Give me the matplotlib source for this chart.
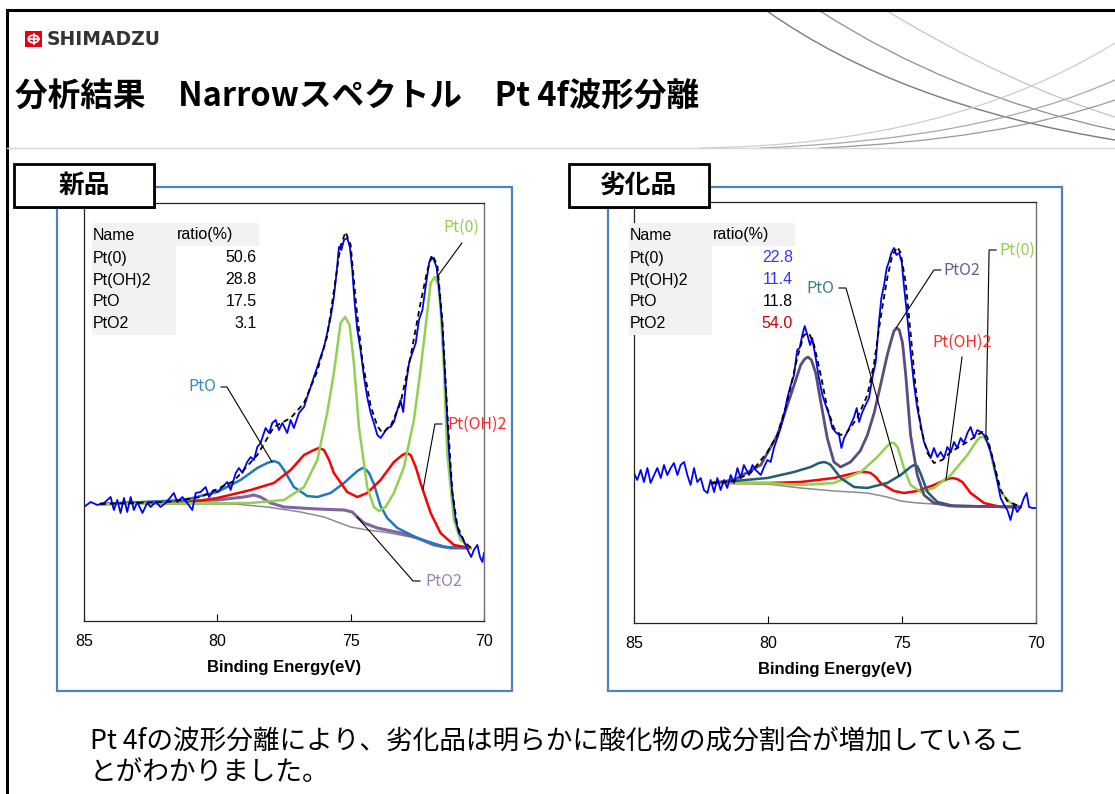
import matplotlib
matplotlib.use('Agg')
import matplotlib.pyplot as plt
from matplotlib.patches import Rectangle, Circle, PathPatch
from matplotlib.path import Path
from matplotlib.lines import Line2D

plt.rcParams['font.family'] = ['Liberation Sans', 'Noto Sans CJK JP', 'DejaVu Sans']

# ---------------------------------------------------------------- data
TITLE = "分析結果　Narrowスペクトル　Pt 4f波形分離"
PANEL_LABELS = ["新品", "劣化品"]
XTICKS = [85, 80, 75, 70]
XLABEL = "Binding Energy(eV)"
SUMMARY = ["Pt 4fの波形分離により、劣化品は明らかに酸化物の成分割合が増加しているこ",
           "とがわかりました。"]

TABLE_NAMES = ["Pt(0)", "Pt(OH)2", "PtO", "PtO2"]
new_ratio = ["50.6", "28.8", "17.5", "3.1"]
old_ratio = ["22.8", "11.4", "11.8", "54.0"]

# ---- 新品 (new) ----
new_raw_x = [85.00, 84.75, 84.50, 84.25, 84.00, 83.88, 83.75, 83.63, 83.50, 83.38, 83.25, 83.13,
             83.00, 82.81, 82.63, 82.50, 82.31, 82.13, 81.94, 81.75, 81.63, 81.50, 81.31, 81.13,
             80.94, 80.81, 80.63, 80.44, 80.31, 80.13, 80.00, 79.81, 79.63, 79.50, 79.31, 79.19,
             79.06, 78.88, 78.75, 78.63, 78.50, 78.38, 78.19, 78.06, 77.94, 77.81, 77.69, 77.56,
             77.38, 77.25, 77.13, 76.94, 76.75, 76.63, 76.50, 76.38, 76.25, 76.13, 76.00, 75.88,
             75.75, 75.63, 75.53, 75.44, 75.35, 75.25, 75.13, 75.03, 74.94, 74.85, 74.75, 74.63,
             74.50, 74.38, 74.25, 74.13, 74.00, 73.88, 73.75, 73.63, 73.50, 73.38, 73.25, 73.13,
             73.03, 72.94, 72.81, 72.69, 72.56, 72.44, 72.31, 72.19, 72.06, 71.98, 71.88, 71.78,
             71.69, 71.56, 71.44, 71.31, 71.19, 71.06, 70.94, 70.81, 70.69, 70.56, 70.48, 70.38,
             70.25, 70.15, 70.06, 70.00]
new_raw_y = [114, 119, 116, 118, 124, 111, 121, 108, 123, 109, 124, 111,
             119, 108, 118, 114, 119, 114, 118, 124, 128, 119, 124, 118,
             111, 128, 129, 134, 124, 131, 129, 134, 139, 131, 148, 153,
             148, 159, 164, 161, 174, 178, 193, 188, 198, 201, 191, 198,
             188, 201, 193, 208, 214, 224, 234, 244, 254, 264, 274, 288,
             304, 324, 348, 374, 371, 381, 383, 374, 351, 318, 291, 271,
             244, 224, 208, 198, 186, 183, 188, 193, 194, 199, 211, 221,
             209, 234, 258, 268, 278, 301, 311, 334, 358, 364, 361, 354,
             334, 294, 234, 168, 128, 101, 88, 83, 76, 68, 64, 71,
             76, 64, 59, 68]

new_env_x = [84.38, 81.88, 80.63, 79.38, 78.50, 77.88, 77.25, 76.75, 76.25, 75.88, 75.63, 75.38,
             75.19, 75.00, 74.81, 74.56, 74.25, 74.00, 73.81, 73.50, 73.13, 72.75, 72.38, 72.13,
             71.94, 71.75, 71.56, 71.38, 71.19, 71.00, 70.75, 70.50]
new_env_y = [117, 119, 124, 140, 166, 194, 203, 218, 250, 285, 330, 375,
             389, 376, 320, 260, 215, 195, 188, 195, 218, 265, 318, 350,
             366, 356, 300, 210, 130, 95, 80, 73]

new_bg_x = [84.38, 79.38, 78.13, 76.88, 76.00, 75.00, 74.38, 73.75, 72.75, 71.88, 71.25, 70.50]
new_bg_y = [117, 117, 114, 109, 104, 94, 91, 89, 84, 78, 73, 73]

new_pt0_x = [84.38, 78.75, 77.50, 76.75, 76.25, 75.88, 75.63, 75.50, 75.38, 75.21, 75.04, 74.88,
             74.69, 74.38, 74.13, 73.94, 73.69, 73.38, 73.00, 72.63, 72.38, 72.13, 72.00, 71.85,
             71.71, 71.63, 71.50, 71.38, 71.13, 70.88, 70.50]
new_pt0_y = [117, 118, 121, 134, 161, 208, 248, 274, 298, 304, 296, 258,
             194, 134, 114, 110, 114, 128, 154, 201, 251, 308, 338, 344,
             336, 314, 250, 168, 101, 81, 73]

new_oh_x = [84.38, 81.25, 80.00, 78.75, 77.88, 77.25, 76.75, 76.38, 76.19, 76.00, 75.81, 75.63,
            75.13, 74.75, 74.38, 73.88, 73.38, 73.06, 72.90, 72.75, 72.56, 72.38, 72.00, 71.63,
            71.13, 70.50]
new_oh_y = [117, 118, 123, 131, 138, 151, 166, 171, 173, 171, 161, 148,
            129, 124, 128, 141, 159, 166, 168, 166, 154, 138, 108, 88,
            76, 73]

new_pto_x = [84.38, 81.25, 80.00, 79.13, 78.50, 78.13, 77.88, 77.69, 77.50, 77.13, 76.63, 76.25,
             75.75, 75.25, 74.75, 74.56, 74.45, 74.31, 74.13, 73.88, 73.63, 73.25, 72.50, 71.50,
             70.50]
new_pto_y = [117, 121, 129, 141, 153, 158, 160, 158, 151, 134, 125, 124,
             128, 138, 150, 153, 152, 148, 137, 115, 103, 93, 83, 74,
             73]

new_pto2_x = [84.38, 80.00, 79.00, 78.63, 78.38, 78.00, 77.50, 76.25, 75.25, 74.94, 74.75, 74.50,
              74.00, 73.13, 72.50, 71.88, 71.25, 70.50]
new_pto2_y = [117, 121, 124, 126, 124, 118, 114, 112, 111, 109, 104, 98,
              93, 88, 83, 76, 73, 73]

# ---- 劣化品 (degraded) ----
old_raw_x = [85.00, 84.88, 84.75, 84.63, 84.50, 84.38, 84.25, 84.13, 84.00, 83.88, 83.76, 83.63,
             83.51, 83.38, 83.26, 83.13, 83.01, 82.89, 82.76, 82.64, 82.51, 82.39, 82.26, 82.14,
             82.01, 81.89, 81.77, 81.64, 81.52, 81.39, 81.27, 81.14, 81.02, 80.90, 80.71, 80.58,
             80.46, 80.27, 80.15, 80.02, 79.90, 79.78, 79.65, 79.53, 79.40, 79.28, 79.15, 79.03,
             78.91, 78.82, 78.72, 78.63, 78.53, 78.43, 78.35, 78.22, 78.10, 77.97, 77.85, 77.72,
             77.60, 77.48, 77.35, 77.26, 77.16, 77.04, 76.92, 76.79, 76.69, 76.60, 76.48, 76.36,
             76.23, 76.11, 75.98, 75.86, 75.77, 75.67, 75.57, 75.49, 75.40, 75.30, 75.21, 75.11,
             75.01, 74.93, 74.80, 74.68, 74.55, 74.43, 74.30, 74.18, 74.05, 73.93, 73.81, 73.68,
             73.56, 73.43, 73.31, 73.18, 73.06, 72.94, 72.81, 72.69, 72.56, 72.44, 72.31, 72.19,
             72.06, 71.94, 71.82, 71.69, 71.57, 71.44, 71.32, 71.19, 71.07, 70.95, 70.82, 70.70,
             70.57, 70.45, 70.35, 70.26, 70.14, 70.00]
old_raw_y = [150, 143, 153, 141, 155, 140, 148, 155, 145, 158, 148, 155,
             160, 148, 158, 161, 148, 138, 155, 141, 145, 133, 130, 143,
             131, 145, 133, 143, 135, 148, 140, 155, 145, 158, 148, 158,
             153, 148, 156, 163, 161, 175, 185, 195, 208, 225, 238, 248,
             273, 275, 288, 297, 288, 278, 285, 265, 245, 228, 218, 208,
             195, 191, 188, 175, 185, 191, 198, 206, 215, 201, 211, 218,
             225, 245, 261, 301, 325, 338, 355, 361, 370, 375, 368, 370,
             361, 338, 305, 271, 238, 215, 198, 181, 173, 165, 175, 166,
             171, 165, 176, 171, 181, 175, 185, 180, 190, 196, 185, 193,
             191, 188, 181, 171, 158, 141, 125, 118, 113, 103, 118, 111,
             116, 125, 130, 116, 115, 115]

old_env_x = [82.08, 81.27, 80.65, 80.02, 79.65, 79.28, 78.91, 78.66, 78.47, 78.28, 78.03, 77.79,
             77.54, 77.29, 77.04, 76.67, 76.29, 76.04, 75.80, 75.55, 75.36, 75.17, 75.05, 74.86,
             74.68, 74.49, 74.30, 74.05, 73.81, 73.50, 73.18, 72.56, 72.19, 72.00, 71.82, 71.57,
             71.32, 71.07, 70.57]
old_env_y = [140, 142, 150, 171, 188, 221, 265, 288, 290, 278, 248, 215,
             195, 188, 191, 205, 228, 260, 305, 345, 368, 376, 370, 340,
             290, 235, 195, 170, 160, 163, 171, 181, 188, 191, 186, 160,
             133, 122, 116]

old_bg_x = [82.08, 80.02, 78.78, 77.54, 76.29, 75.55, 75.05, 74.43, 73.18, 70.57]
old_bg_y = [140, 139, 135, 132, 130, 126, 122, 120, 118, 116]

old_pt0_x = [82.08, 80.02, 78.78, 77.54, 76.54, 75.92, 75.55, 75.42, 75.30, 75.17, 75.05, 74.93,
             74.68, 74.30, 73.81, 73.18, 72.56, 72.19, 72.06, 71.94, 71.82, 71.69, 71.57, 71.32,
             70.95, 70.57]
old_pt0_y = [140, 140, 138, 140, 151, 166, 177, 180, 180, 176, 166, 155,
             138, 131, 135, 148, 168, 183, 186, 186, 181, 170, 155, 131,
             120, 116]

old_oh_x = [82.08, 80.02, 78.78, 77.54, 76.92, 76.54, 76.36, 76.17, 75.98, 75.80, 75.30, 74.93,
            74.43, 73.81, 73.31, 73.12, 72.94, 72.75, 72.44, 71.94, 71.32, 70.57]
old_oh_y = [140, 140, 141, 145, 149, 151, 151, 150, 146, 140, 132, 130,
            132, 138, 144, 145, 144, 141, 130, 120, 116, 116]

old_pto_x = [82.08, 80.02, 79.03, 78.41, 78.10, 77.91, 77.79, 77.66, 77.29, 76.79, 76.29, 75.55,
             75.05, 74.68, 74.55, 74.43, 74.30, 74.05, 73.68, 73.06, 70.57]
old_pto_y = [140, 145, 151, 156, 160, 161, 160, 158, 145, 136, 135, 140,
             148, 156, 158, 157, 149, 131, 121, 117, 116]

old_pto2_x = [82.08, 81.27, 80.27, 79.65, 79.15, 78.78, 78.63, 78.51, 78.38, 78.22, 78.03, 77.79,
              77.54, 77.29, 76.92, 76.56, 76.29, 76.04, 75.80, 75.55, 75.42, 75.30, 75.20, 75.10,
              74.98, 74.86, 74.68, 74.43, 74.18, 73.81, 73.18, 70.57]
old_pto2_y = [140, 143, 158, 188, 228, 258, 264, 266, 263, 250, 221, 185,
              161, 156, 161, 172, 188, 210, 238, 268, 281, 292, 295, 293,
              280, 248, 188, 148, 128, 120, 117, 116]

# ---------------------------------------------------------------- layout helpers
W, H = 1115, 794
fig = plt.figure(figsize=(W / 100, H / 100), dpi=100)


def P(x, y):
    return (x / W, 1 - y / H)


def frect(x0, y0, x1, y1, **kw):
    r = Rectangle(P(x0, y1), (x1 - x0) / W, (y1 - y0) / H, transform=fig.transFigure, **kw)
    fig.patches.append(r)


def fline(xs, ys, **kw):
    fig.lines.append(Line2D([x / W for x in xs], [1 - y / H for y in ys],
                            transform=fig.transFigure, **kw))


def fcurve(p0, c, p1, **kw):
    verts = [P(*p0), P(*c), P(*p1)]
    path = Path(verts, [Path.MOVETO, Path.CURVE3, Path.CURVE3])
    fig.patches.append(PathPatch(path, transform=fig.transFigure, fill=False, **kw))


# outer frame & header
fline([7, 7], [10, 794], color='black', lw=2.2)
fline([7, 1115], [10, 10], color='black', lw=2.2)
fline([7, 1115], [148, 148], color='#d6d6d6', lw=1.0)

# decorative arcs (top right)
fcurve((767, 11), (900, 105), (1115, 140), color='#7a7a7a', lw=1.0)
fcurve((820, 11), (950, 95), (1115, 130), color='#8e8e8e', lw=0.9)
fcurve((887, 11), (1010, 85), (1115, 117), color='#c4c4c4', lw=0.9)
fcurve((700, 148), (950, 145), (1115, 43), color='#cdcdcd', lw=0.9)
fcurve((760, 148), (980, 140), (1115, 80), color='#a8a8a8', lw=0.9)
fcurve((820, 148), (1000, 140), (1115, 100), color='#989898', lw=0.9)

# logo
frect(25, 31, 42, 47, facecolor='#e60012', edgecolor='none')
fig.patches.append(Circle(P(33.5, 39), 5.2 / W, transform=fig.transFigure,
                          facecolor='none', edgecolor='white', lw=1.3))
fline([33.5, 33.5], [34, 44], color='white', lw=1.2)
fline([28.5, 38.5], [39, 39], color='white', lw=1.2)
fig.text(*P(47, 39.5), "SHIMADZU", fontsize=13.5, fontweight='bold', color='#333333',
         family='DejaVu Sans', va='center', ha='left')

fig.text(*P(15, 97), TITLE, fontsize=23.5, fontweight='bold', family='Noto Sans CJK JP',
         va='center', ha='left')

# panels
panel_boxes = [(57, 187, 512, 691), (608, 187, 1062, 691)]
label_boxes = [(14, 164, 154, 207), (569, 164, 709, 207)]
for (x0, y0, x1, y1) in panel_boxes:
    frect(x0, y0, x1, y1, facecolor='none', edgecolor='#4f81bd', lw=1.6)

axes_px = [(84, 203, 484, 621), (634, 202, 1036, 623)]

C_GREEN = '#92d050'
C_RED = '#ff0000'
C_GRAY = '#8c8c8c'

charts = [
    dict(raw=(new_raw_x, new_raw_y), env=(new_env_x, new_env_y), bg=(new_bg_x, new_bg_y),
         comps=[((new_pto2_x, new_pto2_y), '#8064a2', 2.2),
                ((new_pto_x, new_pto_y), '#1f78c0', 1.8),
                ((new_oh_x, new_oh_y), C_RED, 1.8),
                ((new_pt0_x, new_pt0_y), C_GREEN, 1.8)]),
    dict(raw=(old_raw_x, old_raw_y), env=(old_env_x, old_env_y), bg=(old_bg_x, old_bg_y),
         comps=[((old_oh_x, old_oh_y), C_RED, 1.8),
                ((old_pt0_x, old_pt0_y), C_GREEN, 1.8),
                ((old_pto_x, old_pto_y), '#215f6e', 1.8),
                ((old_pto2_x, old_pto2_y), '#5b4b80', 2.0)]),
]

# annotation callouts: (text, colour, text position, ha, leader path) in data coords
annotations = [
    [("Pt(0)", '#92d050', (70.84, 394), 'center', [(70.83, 378), (71.76, 344)]),
     ("Pt(OH)2", '#ff2a2a', (71.39, 197), 'left', [(71.58, 197), (71.84, 197), (72.29, 131)]),
     ("PtO", '#2f8bc9', (80.05, 234), 'right', [(79.86, 234), (79.64, 234), (77.95, 159)]),
     ("PtO2", '#9a80c0', (72.21, 40), 'left', [(72.40, 40), (72.66, 40), (74.76, 104)])],
    [("PtO", '#3f7f8c', (77.54, 335), 'right', [(77.35, 335), (77.09, 335), (75.11, 147)]),
     ("PtO2", '#6c5b93', (73.47, 353), 'left', [(73.55, 353), (73.81, 353), (75.22, 295)]),
     ("Pt(OH)2", '#ff2a2a', (72.76, 281), 'center', [(72.76, 266), (73.36, 143)]),
     ("Pt(0)", '#92d050', (71.38, 373), 'left', [(71.49, 373), (71.75, 373), (71.87, 188)])],
]

for i, ch in enumerate(charts):
    x0, y0, x1, y1 = axes_px[i]
    ax = fig.add_axes([x0 / W, 1 - y1 / H, (x1 - x0) / W, (y1 - y0) / H])
    ax.set_xlim(85, 70)
    ax.set_ylim(0, y1 - y0)
    ax.set_facecolor('none')
    ax.plot(*ch['bg'], color=C_GRAY, lw=1.1, solid_joinstyle='round')
    for (xy, col, lw) in ch['comps']:
        ax.plot(*xy, color=col, lw=lw, solid_joinstyle='round', solid_capstyle='round')
    ax.plot(*ch['raw'], color='#0000ff', lw=1.3, solid_joinstyle='round')
    ax.plot(*ch['env'], color='black', lw=1.3, ls=(0, (3.0, 2.2)))
    for (txt, col, pos, ha, path) in annotations[i]:
        px_, py_ = zip(*path)
        ax.plot(px_, py_, color='black', lw=0.8, clip_on=False)
        ax.text(pos[0], pos[1], txt, color=col, fontsize=11.5, ha=ha, va='center',
                family='Noto Sans CJK JP', clip_on=False)
    ax.set_xticks(XTICKS)
    ax.set_xticklabels([str(t) for t in XTICKS])
    ax.set_yticks([])
    ax.tick_params(axis='x', direction='in', length=5, width=0.8, labelsize=11.5, pad=9)
    ax.set_xlabel(XLABEL, fontsize=12, fontweight='bold', labelpad=8)
    for s in ['left', 'bottom', 'top']:
        ax.spines[s].set_color('#222222')
        ax.spines[s].set_linewidth(0.9)
    ax.spines['right'].set_color('#707070')
    ax.spines['right'].set_linewidth(1.0)

# label boxes on top of panels
for i, (x0, y0, x1, y1) in enumerate(label_boxes):
    frect(x0 + 2, y0 + 2, x1 + 2, y1 + 2, facecolor='#555555', edgecolor='none', zorder=5)
    frect(x0, y0, x1, y1, facecolor='white', edgecolor='black', lw=2.0, zorder=6)
    fig.text(*P((x0 + x1) / 2, (y0 + y1) / 2), PANEL_LABELS[i], fontsize=18.5,
             fontweight='bold', family='Noto Sans CJK JP', ha='center', va='center', zorder=7)

# ratio tables
tables = [(92, 176, 259, new_ratio, ['black'] * 4),
          (629, 712, 795, old_ratio, ['#3333ff', '#3333ff', 'black', '#cc0000'])]
row_y = [235, 258, 280, 302, 324]
for (xl, xm, xr, vals, cols) in tables:
    frect(xl, 223, xr, 246, facecolor='#f2f2f2', edgecolor='none', zorder=3)
    frect(xl, 246, xm, 335, facecolor='#f2f2f2', edgecolor='none', zorder=3)
    fig.text(*P(xl + 1, row_y[0]), "Name", fontsize=11.5, va='center', ha='left', zorder=4)
    fig.text(*P(xm + 1, row_y[0]), "ratio(%)", fontsize=11.5, va='center', ha='left', zorder=4)
    for k in range(4):
        fig.text(*P(xl + 1, row_y[k + 1]), TABLE_NAMES[k], fontsize=11.5, va='center',
                 ha='left', zorder=4)
        fig.text(*P(xr - 2, row_y[k + 1]), vals[k], fontsize=11.5, va='center', ha='right',
                 color=cols[k], zorder=4)

# summary text
fig.text(*P(90, 742), SUMMARY[0], fontsize=19.2, family='Noto Sans CJK JP', va='center', ha='left')
fig.text(*P(90, 772), SUMMARY[1], fontsize=19.2, family='Noto Sans CJK JP', va='center', ha='left')

fig.savefig('out.png', dpi=100)
